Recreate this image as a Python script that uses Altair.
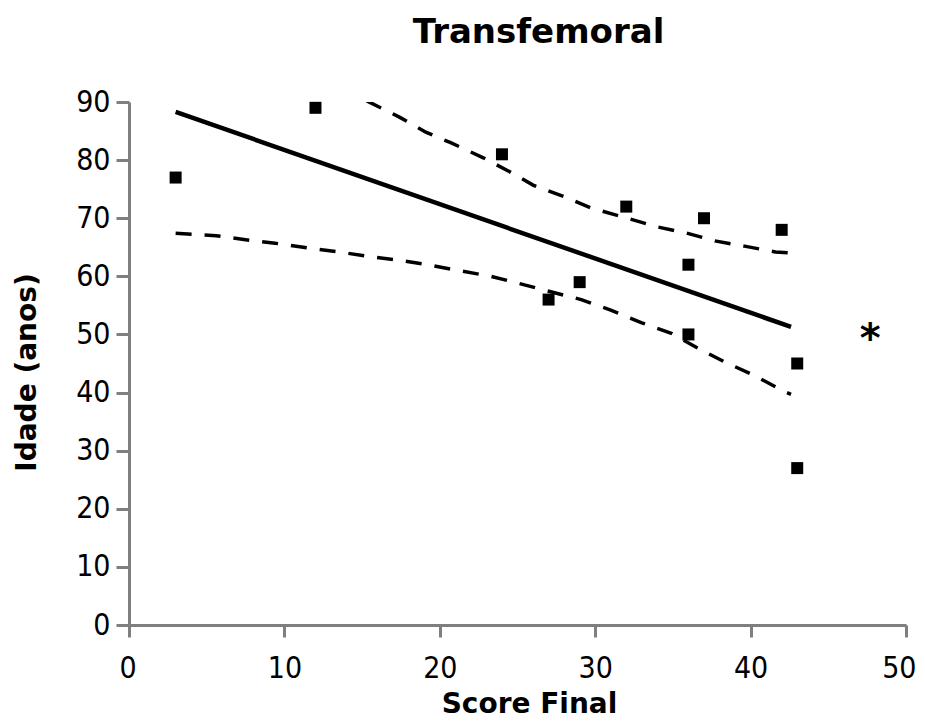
import altair as alt
import pandas as pd

# Scatter points (Score Final, Idade)
score = [3, 12, 24, 27, 29, 32, 36, 36, 37, 42, 43, 43]
idade = [77, 89, 81, 56, 59, 72, 62, 50, 70, 68, 45, 27]

# Regression line endpoints
fit_x = [3.0, 42.6]
fit_y = [88.3, 51.3]

# Upper confidence curve (clipped at 90)
up_x = [15.3, 17.4, 19.1, 20.7, 22.8, 24.5, 26.0, 28.0, 29.7, 31.8, 34.0, 35.8, 37.7, 39.6, 41.6, 42.6]
up_y = [90.2, 87.4, 84.8, 83.0, 80.4, 78.0, 75.7, 73.7, 71.8, 70.2, 68.5, 67.5, 66.1, 65.2, 64.2, 64.0]

# Lower confidence curve
lo_x = [3.0, 5.6, 7.5, 9.4, 11.5, 13.5, 15.5, 17.3, 19.2, 21.2, 23.3, 25.2, 27.2, 29.1, 31.0, 33.0, 34.9, 36.5, 38.3, 40.2, 42.0, 42.6]
lo_y = [67.4, 67.0, 66.3, 65.7, 64.9, 64.2, 63.4, 62.8, 62.0, 61.0, 60.0, 58.7, 57.3, 56.0, 54.2, 52.0, 50.2, 47.8, 45.3, 43.0, 40.4, 39.7]

# Significance marker
star_x = [47.7]
star_y = [50.4]
star_t = ["*"]

pts = pd.DataFrame({"x": score, "y": idade})
fit = pd.DataFrame({"x": fit_x, "y": fit_y})
up = pd.DataFrame({"x": up_x, "y": up_y})
lo = pd.DataFrame({"x": lo_x, "y": lo_y})
star = pd.DataFrame({"x": star_x, "y": star_y, "t": star_t})

label_font = "Liberation Sans Narrow, DejaVu Sans Condensed, sans-serif"
title_font = "DejaVu Sans, sans-serif"

xscale = alt.Scale(domain=[0, 50], nice=False)
yscale = alt.Scale(domain=[0, 90], nice=False)

xenc = alt.X("x:Q", scale=xscale, axis=alt.Axis(
    title="Score Final", values=[0, 10, 20, 30, 40, 50], grid=False,
    domainColor="#7f7f7f", domainWidth=3, tickColor="#7f7f7f", tickWidth=3, tickSize=12,
    labelFont=label_font, labelFontSize=30, labelColor="black", labelPadding=16,
    labelFlush=True, labelFlushOffset=10,
    titleFont=title_font, titleFontSize=28, titleFontWeight="bold",
    titleColor="black", titleX=400, titleY=65, titleBaseline="top"))
yenc = alt.Y("y:Q", scale=yscale, axis=alt.Axis(
    title="Idade (anos)", values=list(range(0, 91, 10)), grid=False,
    domainColor="#7f7f7f", domainWidth=3, tickColor="#7f7f7f", tickWidth=3, tickSize=13,
    labelFont=label_font, labelFontSize=30, labelColor="black", labelPadding=6,
    labelFlush=False, titleFont=title_font, titleFontSize=28, titleFontWeight="bold",
    titleColor="black", titleX=-88, titleY=270))

points = alt.Chart(pts).mark_point(shape="square", filled=True, size=144, color="black", opacity=1).encode(x=xenc, y=yenc)
fitline = alt.Chart(fit).mark_line(color="black", strokeWidth=4.5, clip=True).encode(x="x:Q", y="y:Q")
upper = alt.Chart(up).mark_line(color="black", strokeWidth=3.5, strokeDash=[16, 13], clip=True).encode(x="x:Q", y="y:Q")
lower = alt.Chart(lo).mark_line(color="black", strokeWidth=3.5, strokeDash=[16, 13], clip=True).encode(x="x:Q", y="y:Q")
stars = alt.Chart(star).mark_text(font=title_font, fontSize=40, fontWeight="bold", color="black", dy=8, baseline="middle").encode(
    x="x:Q", y="y:Q", text="t:N")

chart = alt.layer(fitline, upper, lower, points, stars).properties(
    width=777, height=523,
    title=alt.TitleParams("Transfemoral", font=title_font, fontSize=34, fontWeight="bold",
                          color="black", offset=37, dx=21, anchor="middle"),
    autosize=alt.AutoSizeParams(type="none"),
    padding={"left": 121, "top": 94, "right": 11, "bottom": 93},
    background="white",
).configure_view(stroke=None)

chart.save("out.html", embed_options={"renderer": "svg", "actions": False})
